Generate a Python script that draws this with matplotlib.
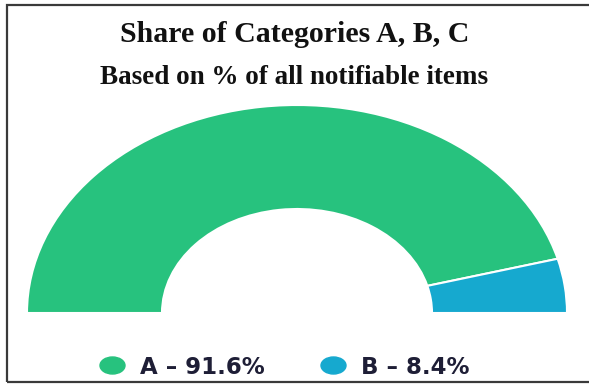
"""Half-donut chart: share of categories A, B, C."""

import matplotlib
matplotlib.use("Agg")
import matplotlib.pyplot as plt
import numpy as np
from matplotlib.lines import Line2D
from matplotlib.patches import Rectangle, Wedge
from matplotlib.path import Path

categories = ["A", "B"]
shares = [91.6, 8.4]
colors = ["#27c27e", "#16a9cf"]

W, H = 589, 384
fig = plt.figure(figsize=(W / 100, H / 100), dpi=100)

# frame around the whole picture (right edge runs off the image)
fig.patches.append(
	Rectangle((7 / W, 1 - 382 / H), 640 / W, 377 / H, transform=fig.transFigure,
			  fill=False, edgecolor="#3a3a3a", linewidth=1.6)
)

fig.text(0.5, 1 - 34 / H, "Share of Categories A, B, C", ha="center", va="center",
		 family="Liberation Serif", fontweight="bold", fontsize=21.5, color="#111111")
fig.text(0.5, 1 - 78 / H, "Based on % of all notifiable items", ha="center", va="center",
		 family="Liberation Serif", fontweight="bold", fontsize=19.5, color="#111111")

# axes box = bounding box of the outer half ellipse
ax = fig.add_axes([27 / W, 1 - 313 / H, 540 / W, 208 / H])
ax.set_xlim(-1, 1)
ax.set_ylim(0, 1)
ax.axis("off")

start = 180.0
for cat, val, col in zip(categories, shares, colors):
	span = 180.0 * val / sum(shares)
	ax.add_patch(Wedge((0, 0), 1, start - span, start, width=0.5, facecolor=col,
					   edgecolor="white", linewidth=1.5, clip_on=False))
	start -= span

# legend dots are a bit wider than tall in the reference
circ = Path.unit_circle()
oval = Path(circ.vertices * np.array([1.47, 1.0]), circ.codes)

handles = [
	Line2D([], [], linestyle="none", marker=oval, markersize=18, color=c,
		   label=f"{cat} \u2013 {v:.1f}%")
	for cat, v, c in zip(categories, shares, colors)
]
leg = fig.legend(handles=handles, loc="center", bbox_to_anchor=(284 / W, 1 - 367 / H),
				 ncol=2, frameon=False, handlelength=1.2, handletextpad=0.6,
				 columnspacing=2.4,
				 prop={"family": "DejaVu Sans", "weight": "bold", "size": 16.5})
for t in leg.get_texts():
	t.set_color("#1e1e36")

fig.savefig("out.png", dpi=100)
